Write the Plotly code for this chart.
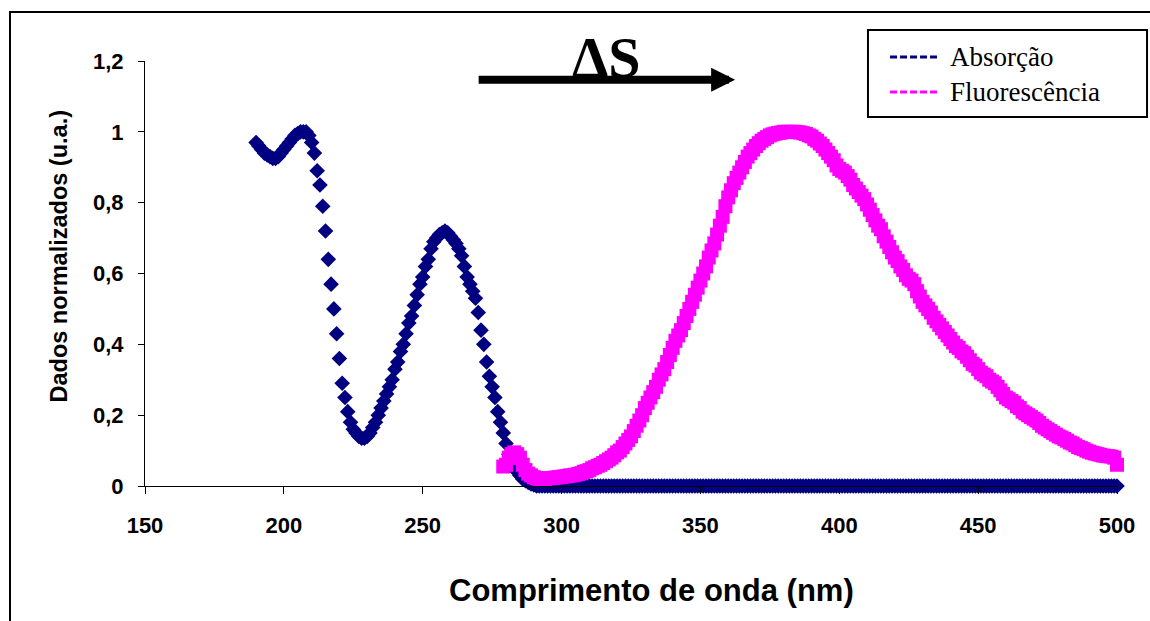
import plotly.graph_objects as go

# ---------------- data ----------------
ABS_START = 190
abs_values = [
    0.97, 0.96, 0.95, 0.94, 0.935, 0.93, 0.925, 0.925, 0.93, 0.94,        # 190-199
    0.95, 0.96, 0.97, 0.98, 0.99, 0.995, 1.0, 1.0, 1.0, 0.99,             # 200-209
    0.97, 0.94, 0.89, 0.85, 0.79, 0.72, 0.64, 0.57, 0.50, 0.43,           # 210-219
    0.36, 0.29, 0.25, 0.21, 0.18, 0.16, 0.15, 0.14, 0.135, 0.135,         # 220-229
    0.14, 0.15, 0.165, 0.18, 0.20, 0.22, 0.24, 0.26, 0.28, 0.30,          # 230-239
    0.33, 0.35, 0.38, 0.40, 0.43, 0.46, 0.48, 0.51, 0.54, 0.57,           # 240-249
    0.59, 0.62, 0.64, 0.67, 0.69, 0.70, 0.71, 0.715, 0.72, 0.715,         # 250-259
    0.705, 0.695, 0.685, 0.67, 0.65, 0.62, 0.59, 0.57, 0.55, 0.53,        # 260-269
    0.49, 0.44, 0.40, 0.35, 0.31, 0.28, 0.25, 0.21, 0.18, 0.15,           # 270-279
    0.12, 0.09, 0.07, 0.05, 0.04, 0.03, 0.02, 0.015, 0.01, 0.006, 0.003,  # 280-290
] + [0.0] * 210                                                           # 291-500
abs_wavelength = list(range(ABS_START, ABS_START + len(abs_values)))

FLU_START = 279
flu_values = [
    0.055, 0.06, 0.08, 0.09, 0.095, 0.09, 0.08, 0.06, 0.045, 0.035, 0.03,  # 279-289
    0.025, 0.022, 0.02, 0.02, 0.02, 0.022, 0.022, 0.023, 0.024, 0.025,     # 290-299
    0.026, 0.027, 0.028, 0.03, 0.03, 0.032, 0.034, 0.036, 0.04, 0.042,     # 300-309
    0.045, 0.05, 0.053, 0.057, 0.06, 0.065, 0.07, 0.075, 0.08, 0.087,      # 310-319
    0.095, 0.10, 0.11, 0.12, 0.13, 0.14, 0.155, 0.17, 0.185, 0.20,         # 320-329
    0.22, 0.235, 0.25, 0.265, 0.28, 0.30, 0.315, 0.33, 0.35, 0.37,         # 330-339
    0.39, 0.41, 0.425, 0.44, 0.46, 0.48, 0.50, 0.52, 0.54, 0.56,           # 340-349
    0.58, 0.60, 0.62, 0.645, 0.665, 0.685, 0.71, 0.735, 0.76, 0.79,        # 350-359
    0.815, 0.835, 0.855, 0.87, 0.885, 0.90, 0.915, 0.93, 0.94, 0.95,       # 360-369
    0.96, 0.968, 0.975, 0.98, 0.985, 0.99, 0.993, 0.995, 0.997, 0.998,     # 370-379
    1.0, 1.0, 1.0, 1.0, 1.0, 0.999, 0.998, 0.996, 0.994, 0.99,             # 380-389
    0.987, 0.98, 0.975, 0.967, 0.96, 0.95, 0.94, 0.93, 0.92, 0.905,        # 390-399
    0.895, 0.89, 0.885, 0.875, 0.865, 0.85, 0.84, 0.83, 0.82, 0.81,        # 400-409
    0.795, 0.78, 0.765, 0.75, 0.735, 0.725, 0.705, 0.69, 0.675, 0.66,      # 410-419
    0.645, 0.635, 0.62, 0.61, 0.595, 0.585, 0.58, 0.57, 0.55, 0.535,       # 420-429
    0.52, 0.51, 0.50, 0.49, 0.475, 0.465, 0.455, 0.445, 0.435, 0.425,      # 430-439
    0.415, 0.405, 0.395, 0.39, 0.38, 0.375, 0.365, 0.355, 0.345, 0.34,     # 440-449
    0.33, 0.32, 0.315, 0.31, 0.30, 0.295, 0.29, 0.28, 0.27, 0.26,          # 450-459
    0.25, 0.245, 0.24, 0.235, 0.225, 0.22, 0.21, 0.205, 0.20, 0.195,       # 460-469
    0.19, 0.185, 0.178, 0.17, 0.165, 0.16, 0.155, 0.15, 0.145, 0.14,       # 470-479
    0.137, 0.133, 0.128, 0.123, 0.12, 0.115, 0.11, 0.107, 0.104, 0.10,     # 480-489
    0.097, 0.094, 0.092, 0.09, 0.088, 0.086, 0.085, 0.084, 0.083, 0.08,    # 490-499
    0.06,                                                                  # 500
]
flu_wavelength = list(range(FLU_START, FLU_START + len(flu_values)))

x_tickvals = [150, 200, 250, 300, 350, 400, 450, 500]
x_ticktext = ["150", "200", "250", "300", "350", "400", "450", "500"]
y_tickvals = [0, 0.2, 0.4, 0.6, 0.8, 1.0, 1.2]
y_ticktext = ["0", "0,2", "0,4", "0,6", "0,8", "1", "1,2"]

series_names = ["Absorção", "Fluorescência"]
series_colors = ["#000080", "#FF00FF"]

x_title = "Comprimento de onda (nm)"
y_title = "Dados normalizados (u.a.)"
shift_label = "ΔS"

# ---------------- figure ----------------
SANS = "Arial, Liberation Sans, sans-serif"
SERIF = "Times New Roman, Liberation Serif, serif"

fig = go.Figure()

fig.add_trace(go.Scatter(
    x=abs_wavelength, y=abs_values, mode="markers", name=series_names[0],
    marker=dict(symbol="diamond", size=12, color=series_colors[0], line=dict(width=0)),
    cliponaxis=False, showlegend=False,
))
fig.add_trace(go.Scatter(
    x=flu_wavelength, y=flu_values, mode="markers", name=series_names[1],
    marker=dict(symbol="square", size=14, color=series_colors[1], line=dict(width=0)),
    cliponaxis=False, showlegend=False,
))

# ---- legend box drawn in paper coordinates (dashed keys as in the reference) ----
LEG_X0, LEG_X1, LEG_Y0, LEG_Y1 = 0.7438, 1.0309, 0.8682, 1.0729
KEY_X0, KEY_X1, TEXT_X = 0.7665, 0.8148, 0.8261
ROW_Y = [1.0094, 0.9271]

shapes = [
    dict(type="rect", xref="paper", yref="paper",
         x0=-0.1389, x1=1.06, y0=-0.4, y1=1.1153,
         line=dict(color="black", width=2), fillcolor="rgba(0,0,0,0)", layer="below"),
    dict(type="rect", xref="paper", yref="paper",
         x0=LEG_X0, x1=LEG_X1, y0=LEG_Y0, y1=LEG_Y1,
         line=dict(color="black", width=2), fillcolor="white", layer="above"),
]
annotations = []
for name, color, ry in zip(series_names, series_colors, ROW_Y):
    shapes.append(dict(type="line", xref="paper", yref="paper",
                       x0=KEY_X0, x1=KEY_X1, y0=ry, y1=ry,
                       line=dict(color=color, width=3, dash="7px,3px"), layer="above"))
    annotations.append(dict(text=name, x=TEXT_X, y=ry, xref="paper", yref="paper",
                            xanchor="left", yanchor="middle", showarrow=False,
                            font=dict(family=SERIF, size=27, color="black")))

# Stokes-shift arrow and label
annotations += [
    dict(text="", x=362.5, y=1.147, xref="x", yref="y",
         ax=269.6, ay=1.147, axref="x", ayref="y",
         showarrow=True, arrowhead=2, arrowsize=0.6, arrowwidth=8, arrowcolor="black"),
    dict(text="<b>" + shift_label + "</b>", x=0.4743, y=0.928, xref="paper", yref="paper",
         xanchor="center", yanchor="bottom", showarrow=False,
         font=dict(family=SERIF, size=58, color="black")),
    # axis titles
    dict(text="<b>" + x_title + "</b>", x=0.5216, y=-0.247, xref="paper", yref="paper",
         xanchor="center", yanchor="middle", showarrow=False,
         font=dict(family=SANS, size=31, color="black")),
    dict(text="<b>" + y_title + "</b>", x=-0.0895, y=0.54, xref="paper", yref="paper",
         xanchor="center", yanchor="middle", showarrow=False, textangle=-90,
         font=dict(family=SANS, size=23.5, color="black")),
]

fig.update_layout(
    width=1150, height=621,
    margin=dict(l=145, r=33, t=61, b=135),
    paper_bgcolor="white", plot_bgcolor="white",
    showlegend=False,
    xaxis=dict(
        range=[150, 500], tickvals=x_tickvals, ticktext=x_ticktext,
        showline=True, linecolor="black", linewidth=1,
        ticks="outside", ticklen=7, tickcolor="black",
        showgrid=False, zeroline=False,
        tickfont=dict(family=SANS, size=22, color="black", weight="bold"),
        ticklabelstandoff=13,
    ),
    yaxis=dict(
        range=[0, 1.2], tickvals=y_tickvals, ticktext=y_ticktext,
        showline=True, linecolor="black", linewidth=1,
        ticks="outside", ticklen=6, tickcolor="black",
        showgrid=False, zeroline=False,
        tickfont=dict(family=SANS, size=22, color="black", weight="bold"),
        ticklabelstandoff=10,
    ),
    shapes=shapes,
    annotations=annotations,
)

fig.write_html("out.html")
